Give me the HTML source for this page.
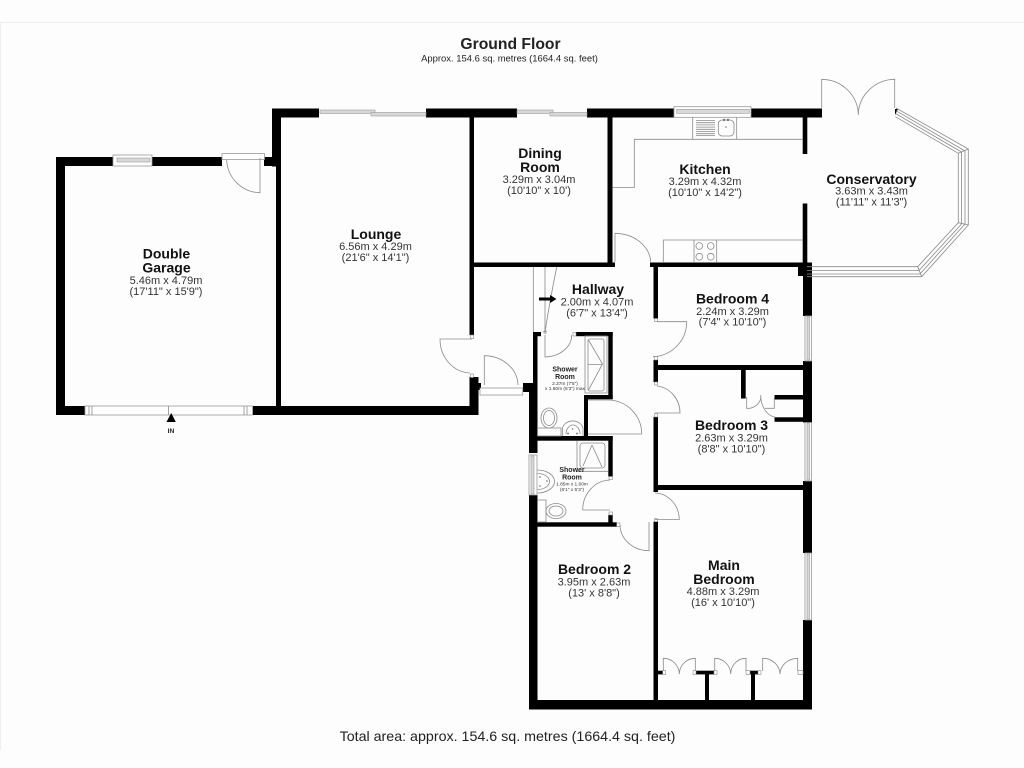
<!DOCTYPE html>
<html><head><meta charset="utf-8"><title>Ground Floor</title>
<style>
html,body{margin:0;padding:0;background:#fefdfe}
svg{display:block;filter:blur(.35px)}
text{font-family:"Liberation Sans",sans-serif;text-anchor:middle;fill:#222}
.b{font-weight:bold;font-size:14px;fill:#111}
.d{font-size:11px;fill:#333}
.sb{font-weight:bold;font-size:7px;fill:#222}
.sd{font-size:4.8px;fill:#333}
.l{fill:none;stroke:#8a8a8a;stroke-width:.8}
.w{fill:#fff;stroke:#999;stroke-width:.8}
.g{fill:#d8d8d8;stroke:#999;stroke-width:.6}
.j{fill:#fff;stroke:#888;stroke-width:.6}
</style></head><body>
<svg width="1024" height="768" viewBox="0 0 1024 768" xmlns="http://www.w3.org/2000/svg">
<rect width="1024" height="768" fill="#fefdfe"/>
<path d="M0 22.500H1024M.5 22.500V750" stroke="#efeff2" stroke-width="1" fill="none"/>
<text x="510.500" y="49" style="font-weight:bold;font-size:15.700px" fill="#222">Ground Floor</text>
<text x="509.500" y="61.300" style="font-size:9.450px" fill="#333">Approx. 154.6 sq. metres (1664.4 sq. feet)</text>
<text x="507.500" y="741" style="font-size:14.250px" fill="#333">Total area: approx. 154.6 sq. metres (1664.4 sq. feet)</text>

<!-- walls -->
<g fill="#000">
<!-- garage -->
<rect x="56" y="157" width="9" height="258"/>
<rect x="56" y="157" width="57" height="9"/>
<rect x="152" y="157" width="70" height="9"/>
<rect x="264" y="157" width="14" height="9"/>
<rect x="56" y="406" width="29" height="9"/>
<rect x="253" y="406" width="225" height="9"/>
<rect x="276" y="160" width="5" height="248"/>
<!-- lounge -->
<rect x="272" y="108.500" width="9" height="58"/>
<rect x="272" y="108.500" width="47" height="9"/>
<rect x="426" y="108.500" width="91" height="9"/>
<rect x="587" y="108.500" width="87" height="9"/>
<rect x="751" y="108.500" width="71" height="9"/>
<rect x="469.500" y="117" width="4.500" height="218"/>
<rect x="469.500" y="377" width="9" height="38"/>
<rect x="474" y="383" width="7" height="7"/>
<!-- dining/kitchen -->
<rect x="607.500" y="117" width="5" height="149"/>
<rect x="470" y="262.500" width="145" height="4.500"/>
<rect x="650" y="262.500" width="162" height="4.500"/>
<rect x="653.500" y="262.500" width="4.500" height="56"/>
<rect x="802.700" y="117" width="4.600" height="37"/>
<rect x="802.700" y="203.500" width="4.600" height="62"/>
<rect x="798" y="266" width="9" height="10"/>
<!-- right wall -->
<rect x="803" y="267" width="9" height="49"/>
<rect x="803" y="361" width="9" height="61.500"/>
<rect x="803" y="481" width="9" height="72"/>
<rect x="803" y="620" width="9" height="89"/>
<!-- bottom -->
<rect x="529" y="700" width="283" height="9.500"/>
<!-- hallway left -->
<rect x="529" y="392" width="8.500" height="61"/>
<rect x="529" y="495" width="8.500" height="214"/>
<rect x="533" y="332" width="4.500" height="60"/>
<rect x="523" y="383" width="14.500" height="9"/>
<rect x="533" y="332" width="8" height="4.200"/>
<rect x="576" y="332" width="36.700" height="4.200"/>
<rect x="608.300" y="332" width="4.400" height="67"/>
<rect x="584" y="395" width="28.700" height="4.300"/>
<rect x="584" y="395" width="4" height="41"/>
<rect x="537" y="436" width="75.700" height="4.700"/>
<rect x="608.300" y="436" width="4.400" height="40.500"/>
<rect x="608.300" y="515" width="4.400" height="8"/>
<rect x="537" y="522.300" width="79.700" height="4.400"/>
<!-- bedrooms -->
<rect x="653.500" y="360" width="4.500" height="22"/>
<rect x="653.500" y="365" width="150" height="5"/>
<rect x="653.500" y="417" width="4.500" height="75"/>
<rect x="653.500" y="485" width="150" height="5"/>
<rect x="653.500" y="521.700" width="4.500" height="180"/>
<rect x="741" y="369" width="4.700" height="29.500"/>
<rect x="774.500" y="395" width="29.500" height="4.500"/>
<rect x="774.500" y="417.300" width="29.500" height="4.500"/>
<!-- wardrobes -->
<rect x="658" y="670.700" width="4.700" height="3.700"/>
<rect x="696" y="670.700" width="18" height="3.700"/>
<rect x="750" y="670.700" width="8" height="3.700"/>
<rect x="705" y="672" width="4" height="29"/>
<rect x="751" y="672" width="4" height="29"/>
<!-- conservatory -->
<path d="M895 109l3 0-3 6z"/>
</g>

<!-- door jambs -->
<rect x="470.500" y="335" width="3" height="3.500" class="j"/>
<rect x="470.500" y="374" width="3" height="3.500" class="j"/>
<rect x="654.500" y="318.500" width="3" height="3" class="j"/>
<rect x="654.500" y="356.500" width="3" height="3.500" class="j"/>
<rect x="654.500" y="382" width="3" height="3" class="j"/>
<rect x="654.500" y="413.500" width="3" height="3.500" class="j"/>
<rect x="654.500" y="518.700" width="3" height="3" class="j"/>
<rect x="573" y="332.500" width="3" height="3.500" class="j"/>
<rect x="609" y="476.500" width="3.500" height="3" class="j"/>
<rect x="609" y="512" width="3.500" height="3" class="j"/>
<rect x="616.700" y="523" width="3.300" height="3.500" class="j"/>
<rect x="662.700" y="670.700" width="3" height="3.700" class="j"/>
<rect x="693" y="670.700" width="3" height="3.700" class="j"/>
<rect x="714" y="670.700" width="3" height="3.700" class="j"/>
<rect x="746" y="670.700" width="4" height="3.700" class="j"/>
<rect x="758" y="670.700" width="3" height="3.700" class="j"/>
<rect x="798" y="670.700" width="5" height="3.700" class="j"/>

<!-- windows -->
<g>
<rect x="113" y="155" width="39" height="11" class="w"/><rect x="117" y="158" width="33" height="4" class="g"/>
<rect x="85" y="406" width="167.500" height="9" class="w"/>
<path class="l" d="M89 406v9M92 406v9M168.500 406v9M247 406v9M244 406v9"/>
<rect x="320" y="110" width="55" height="3.500" class="g"/>
<rect x="371" y="112.500" width="55" height="3.500" class="g"/>
<rect x="517" y="110" width="36" height="3.500" class="g"/>
<rect x="550" y="112.500" width="37" height="3.500" class="g"/>
<rect x="674" y="106.700" width="77" height="10.600" class="w"/><rect x="676.700" y="109.300" width="72.600" height="4" class="g"/>
<rect x="805" y="316" width="6.500" height="45" class="w"/><rect x="807" y="317" width="2.500" height="43" class="g"/>
<rect x="805" y="422.500" width="6.500" height="58.500" class="w"/><rect x="807" y="423.500" width="2.500" height="56.500" class="g"/>
<rect x="805" y="553" width="6.500" height="67" class="w"/><rect x="807" y="554" width="2.500" height="65" class="g"/>
<rect x="529" y="455" width="8" height="40" class="w"/><rect x="531" y="456" width="3" height="38" class="g"/>
<rect x="480" y="388" width="42.700" height="7" class="w"/>
<rect x="222" y="153.500" width="42.500" height="6" class="w"/>
</g>

<!-- conservatory glazing -->
<path class="l" d="M896 108L968.300 149V225L921.700 276.700H807"/>
<path class="l" d="M895.300 116.700L958.300 153.300V222.700L917.700 266.700H807"/>
<path class="l" d="M896 110.700L965 151V224L920 274H807M895.500 113.500L961.500 152V224L919 270.500H807" stroke-width=".5"/>
<path class="l" d="M958.300 153.300L968.300 149M958.300 222.700L968.300 225M917.700 266.700L921.700 276.700"/>

<!-- conservatory doors -->
<path class="l" d="M821.700 108V79.300A37 36 0 0 1 858.300 115A37 36 0 0 1 894.700 79.300V108"/>

<!-- kitchen fittings -->
<path class="l" d="M612.500 187.500H634.300V139.300H803M692.700 117V139.300M736.700 117V139.300"/>
<path class="l" d="M696 120.500h19M696 122.700h19M696 124.900h19M696 127.100h19M696 129.300h19M696 131.500h19M696 133.700h19M696 135.500h19"/>
<rect x="718.300" y="120" width="15.700" height="16" rx="4" class="l"/>
<circle cx="724" cy="120" r="1.200" fill="#777"/><circle cx="728" cy="120" r="1.200" fill="#777"/><circle cx="726" cy="127" r=".8" fill="#777"/>
<path class="l" d="M663.300 262V240H803M694 240V262M716.700 240V262"/>
<circle cx="699.300" cy="246" r="3.400" class="l"/><circle cx="710.700" cy="246" r="3.400" class="l"/>
<circle cx="699.300" cy="256.700" r="3.400" class="l"/><circle cx="710.700" cy="256.700" r="3.400" class="l"/>

<!-- door swings -->
<path class="l" d="M226.700 160A34 34 0 0 0 260 192.700V158"/>
<path class="l" d="M472 339H440A31 34 0 0 0 470 373"/>
<path class="l" d="M484.300 385V355.700A34 30 0 0 1 518 385"/>
<path class="l" d="M615 262V233.300A36 30 0 0 1 650.700 262"/>
<path class="l" d="M657 321.700H686.700A35 35 0 0 1 653 356.700"/>
<path class="l" d="M657 386A26 27 0 0 1 680 413H655"/>
<path class="l" d="M655 493A25 27 0 0 1 679.300 519.500H655"/>
<path class="l" d="M620 525A29 26 0 0 0 649 550.700V522"/>
<path class="l" d="M545 335V357A27 22 0 0 0 571.700 335"/>
<path class="l" d="M588 400H608A34 34 0 0 1 641.700 434H588"/>
<path class="l" d="M610 480A28 30 0 0 0 582.700 510H610"/>
<!-- hall stair/cupboard lines -->
<path class="l" d="M533.300 267V332M545 267V332M556.700 267Q550 300 545 332"/>
<circle cx="545" cy="332" r="1.200" class="l"/>
<path d="M539 297.500h11v-2.500l6.500 4-6.500 4v-2.500h-11z" fill="#000"/>

<!-- bedroom 3 closet doors -->
<path class="l" d="M746.700 397V408.300H750A14 12 0 0 0 760.700 395A16 22 0 0 0 775 417M765 408.300H774.300V398"/>
<!-- wardrobes doors -->
<path class="l" d="M663.300 671V658.300A16 16 0 0 1 679.300 674A16 16 0 0 1 695.300 658.300V671"/>
<path class="l" d="M714.700 671V658.300A16 16 0 0 1 730.700 674A15 16 0 0 1 746 658.300V671"/>
<path class="l" d="M762.700 671V658.300A17 16 0 0 1 780 674A18 16 0 0 1 797.700 658.300V671"/>

<!-- shower room 1 -->
<rect x="585" y="336" width="22" height="57" class="l"/>
<rect x="588" y="339" width="16" height="52" rx="2" class="l"/>
<path class="l" d="M588.500 340L602.500 364L588.500 390M588.500 364.500H602.500"/>
<ellipse cx="549" cy="418" rx="8" ry="10" class="l"/><ellipse cx="549" cy="418" rx="5.500" ry="7.500" class="l"/>
<rect x="537.500" y="428" width="23.500" height="8" class="l"/>
<path class="l" d="M562.500 436V428A10.500 9 0 0 1 583 428V436"/>
<path class="l" d="M566 434A7 9 0 0 1 580 434"/>
<circle cx="568" cy="433.500" r=".9" fill="#666"/><circle cx="577" cy="433.500" r=".9" fill="#666"/><circle cx="572.500" cy="429" r=".7" fill="#666"/>
<!-- shower room 2 -->
<path class="l" d="M577 441V471.300H608"/>
<rect x="580" y="443" width="25" height="25" rx="3" class="l"/>
<path class="l" d="M592 445L583 466M592 445L602 467"/>
<path class="l" d="M537.500 470A17 11.500 0 0 1 537.500 493"/>
<path class="l" d="M537.500 473.500A12 8 0 0 1 537.500 489.500"/>
<circle cx="547" cy="481" r=".8" fill="#666"/><circle cx="540" cy="477" r=".8" fill="#666"/><circle cx="540" cy="486" r=".8" fill="#666"/>
<rect x="537.500" y="500" width="8.500" height="22" class="l"/>
<ellipse cx="556" cy="511" rx="10" ry="7.500" class="l"/><ellipse cx="556" cy="511" rx="7" ry="5" class="l"/>

<!-- IN marker -->
<path d="M171.200 413L175.800 422H166.500z" fill="#000"/>
<text x="171" y="433" style="font-weight:bold;font-size:6.700px" fill="#222">IN</text>

<!-- labels -->
<text class="b" x="166.500" y="258.500">Double</text>
<text class="b" x="166.500" y="272.500">Garage</text>
<text class="d" x="166" y="284">5.46m x 4.79m</text>
<text class="d" x="166" y="295">(17'11" x 15'9")</text>

<text class="b" x="376" y="239">Lounge</text>
<text class="d" x="375.500" y="250">6.56m x 4.29m</text>
<text class="d" x="375.500" y="261">(21'6" x 14'1")</text>

<text class="b" x="540" y="158">Dining</text>
<text class="b" x="540" y="172">Room</text>
<text class="d" x="539" y="183">3.29m x 3.04m</text>
<text class="d" x="539" y="194">(10'10" x 10')</text>

<text class="b" x="705" y="174">Kitchen</text>
<text class="d" x="705" y="185">3.29m x 4.32m</text>
<text class="d" x="705" y="196">(10'10" x 14'2")</text>

<text class="b" x="871.500" y="184">Conservatory</text>
<text class="d" x="871.500" y="194.500">3.63m x 3.43m</text>
<text class="d" x="871.500" y="205.500">(11'11" x 11'3")</text>

<text class="b" x="598" y="294">Hallway</text>
<text class="d" x="597" y="305.500">2.00m x 4.07m</text>
<text class="d" x="597" y="316.500">(6'7" x 13'4")</text>

<text class="sb" x="565" y="371.500">Shower</text>
<text class="sb" x="565" y="379">Room</text>
<text class="sd" x="565" y="385">2.27m (7'5")</text>
<text class="sd" x="565" y="390">x 1.60m (5'3") max</text>

<text class="sb" x="572" y="472">Shower</text>
<text class="sb" x="572" y="479.500">Room</text>
<text class="sd" x="572" y="485.500">1.85m x 1.60m</text>
<text class="sd" x="572" y="491">(6'1" x 5'3")</text>

<text class="b" x="732.500" y="303.500">Bedroom 4</text>
<text class="d" x="732.500" y="315">2.24m x 3.29m</text>
<text class="d" x="732.500" y="325.500">(7'4" x 10'10")</text>

<text class="b" x="731.500" y="430">Bedroom 3</text>
<text class="d" x="731.500" y="441.500">2.63m x 3.29m</text>
<text class="d" x="731.500" y="452.500">(8'8" x 10'10")</text>

<text class="b" x="724" y="570">Main</text>
<text class="b" x="724" y="584">Bedroom</text>
<text class="d" x="723" y="595">4.88m x 3.29m</text>
<text class="d" x="723" y="606">(16' x 10'10")</text>

<text class="b" x="594.500" y="574">Bedroom 2</text>
<text class="d" x="594" y="585.500">3.95m x 2.63m</text>
<text class="d" x="594" y="596.500">(13' x 8'8")</text>
</svg>
</body></html>
